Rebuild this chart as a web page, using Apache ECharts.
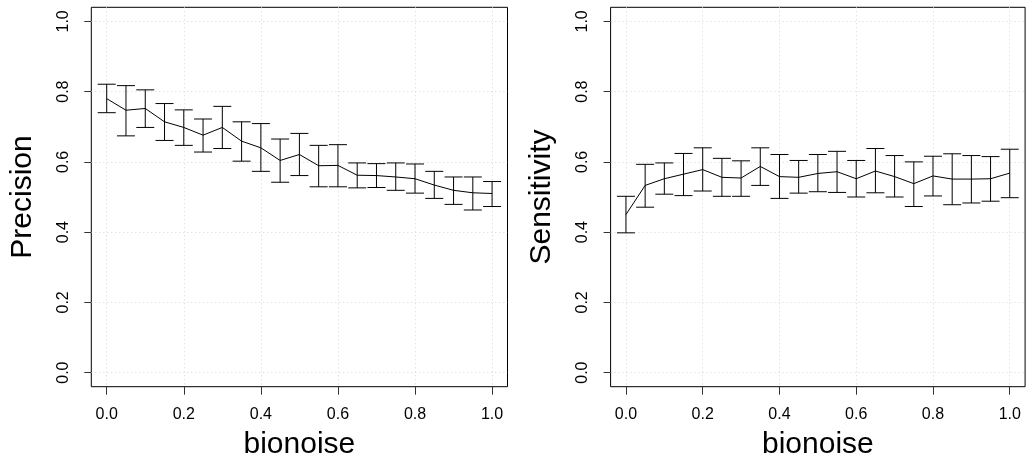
<!DOCTYPE html>
<html><head><meta charset="utf-8">
<script src="https://cdn.jsdelivr.net/npm/echarts@6/dist/echarts.min.js"></script>
<style>html,body{margin:0;padding:0;background:#fff}#c{width:1029px;height:468px}</style>
</head><body><div id="c"></div>
<script>
const bionoise = [0.00,0.05,0.10,0.15,0.20,0.25,0.30,0.35,0.40,0.45,0.50,0.55,0.60,0.65,0.70,0.75,0.80,0.85,0.90,0.95,1.00];
const tickValues = [0.0,0.2,0.4,0.6,0.8,1.0];

const precisionMean  = [0.780,0.747,0.752,0.714,0.698,0.676,0.698,0.659,0.640,0.604,0.621,0.589,0.590,0.562,0.561,0.557,0.552,0.534,0.519,0.512,0.510];
const precisionUpper = [0.821,0.817,0.805,0.766,0.748,0.722,0.758,0.714,0.709,0.665,0.681,0.647,0.649,0.597,0.595,0.597,0.594,0.573,0.557,0.557,0.544];
const precisionLower = [0.740,0.674,0.698,0.661,0.647,0.628,0.638,0.602,0.573,0.542,0.561,0.529,0.529,0.526,0.527,0.519,0.511,0.496,0.479,0.463,0.473];

const sensitivityMean  = [0.450,0.533,0.552,0.565,0.578,0.556,0.554,0.587,0.558,0.556,0.567,0.572,0.552,0.574,0.558,0.538,0.560,0.551,0.551,0.552,0.568];
const sensitivityUpper = [0.502,0.593,0.597,0.624,0.640,0.610,0.603,0.640,0.621,0.604,0.621,0.630,0.604,0.638,0.618,0.600,0.616,0.623,0.618,0.615,0.636];
const sensitivityLower = [0.398,0.471,0.508,0.504,0.517,0.502,0.502,0.533,0.496,0.511,0.515,0.513,0.500,0.512,0.500,0.473,0.503,0.478,0.483,0.488,0.498];

const FONT = 'Liberation Sans, Arial, Helvetica, sans-serif';

function pairs(ys){ return bionoise.map((x,i)=>[x, ys[i]]); }
function errData(lo, hi){ return bionoise.map((x,i)=>[x, lo[i], hi[i]]); }

function renderErr(params, api){
  const x = api.value(0), lo = api.value(1), hi = api.value(2);
  const pLo = api.coord([x, lo]), pHi = api.coord([x, hi]);
  const hw = 9;
  const style = {stroke:'#000', lineWidth:1, fill:null};
  return {type:'group', children:[
    {type:'line', shape:{x1:pLo[0], y1:pLo[1], x2:pHi[0], y2:pHi[1]}, style:style},
    {type:'line', shape:{x1:pHi[0]-hw, y1:pHi[1], x2:pHi[0]+hw, y2:pHi[1]}, style:style},
    {type:'line', shape:{x1:pLo[0]-hw, y1:pLo[1], x2:pLo[0]+hw, y2:pLo[1]}, style:style}
  ]};
}

const gridLine = {show:true, lineStyle:{color:'#d6d6d6', width:1, type:[1,3]}};

function xAx(gi){
  return {type:'value', gridIndex:gi, min:-0.04, max:1.04, position:'bottom',
    name:'bionoise', nameLocation:'middle', nameGap:43,
    nameTextStyle:{fontSize:30, color:'#000', fontFamily:FONT},
    axisLine:{show:false, onZero:false},
    axisTick:{show:true, inside:false, length:8, customValues:tickValues, lineStyle:{color:'#333'}},
    axisLabel:{customValues:tickValues, formatter:v=>v.toFixed(1), fontSize:16, color:'#000', margin:20, fontFamily:FONT},
    splitLine:gridLine};
}
function yAx(gi, name){
  return {type:'value', gridIndex:gi, min:-0.04, max:1.04, position:'left',
    name:name, nameLocation:'middle', nameGap:54,
    nameTextStyle:{fontSize:30, color:'#000', fontFamily:FONT},
    axisLine:{show:false, onZero:false},
    axisTick:{show:true, inside:false, length:7, customValues:tickValues, lineStyle:{color:'#333'}},
    axisLabel:{customValues:tickValues, formatter:v=>v.toFixed(1), fontSize:16, color:'#000', margin:20, rotate:90, fontFamily:FONT},
    splitLine:gridLine};
}

const chart = echarts.init(document.getElementById('c'), null, {renderer:'canvas'});
chart.setOption({
  animation:false,
  backgroundColor:'#fff',
  grid:[
    {left:91.3, top:7.3, width:416.2, height:379.4, show:true, borderColor:'#000', borderWidth:1, backgroundColor:'transparent', outerBoundsMode:'none'},
    {left:610.6, top:7.3, width:414.5, height:379.4, show:true, borderColor:'#000', borderWidth:1, backgroundColor:'transparent', outerBoundsMode:'none'}
  ],
  xAxis:[xAx(0), xAx(1)],
  yAxis:[yAx(0,'Precision'), yAx(1,'Sensitivity')],
  series:[
    {type:'line', xAxisIndex:0, yAxisIndex:0, data:pairs(precisionMean), showSymbol:false, symbol:'none', lineStyle:{color:'#000', width:1}, z:3},
    {type:'custom', xAxisIndex:0, yAxisIndex:0, data:errData(precisionLower, precisionUpper), renderItem:renderErr, z:4},
    {type:'line', xAxisIndex:1, yAxisIndex:1, data:pairs(sensitivityMean), showSymbol:false, symbol:'none', lineStyle:{color:'#000', width:1}, z:3},
    {type:'custom', xAxisIndex:1, yAxisIndex:1, data:errData(sensitivityLower, sensitivityUpper), renderItem:renderErr, z:4}
  ]
});
</script></body></html>
